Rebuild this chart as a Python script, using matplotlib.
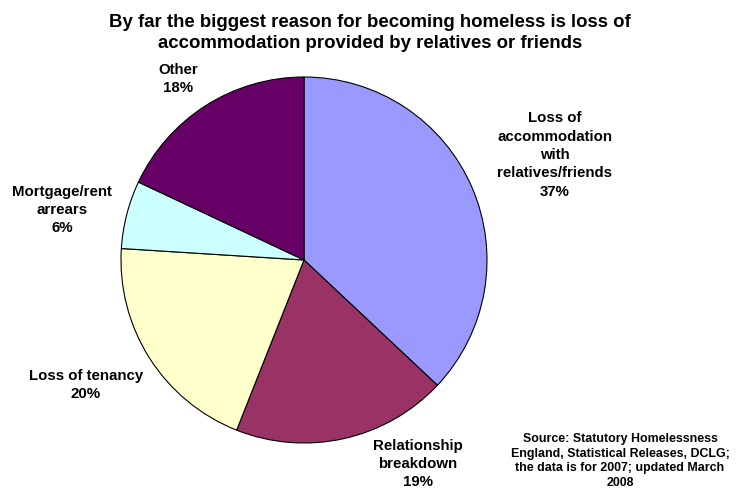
import matplotlib.pyplot as plt

# Reasons for becoming homeless, England 2007
labels = ["Loss of\naccommodation\nwith\nrelatives/friends", "Relationship\nbreakdown",
          "Loss of tenancy", "Mortgage/rent\narrears", "Other"]
shares = [37, 19, 20, 6, 18]
colors = ["#9999FF", "#993366", "#FFFFCC", "#CCFFFF", "#660066"]

# label anchor points (pixel coords, origin bottom-left)
label_pos = [(555, 335), (418, 26), (86, 105), (62, 280), (178, 411)]

plt.rcParams['font.family'] = ['Liberation Sans', 'DejaVu Sans']

fig = plt.figure(figsize=(7.37, 4.90), dpi=100)
ax = fig.add_axes([0, 0, 1, 1])

ax.pie(shares, colors=colors, startangle=90, counterclock=False,
       center=(304, 230), radius=183,
       wedgeprops=dict(edgecolor='black', linewidth=0.8))
ax.set_xlim(0, 737)
ax.set_ylim(0, 490)
ax.set_aspect('equal')
ax.axis('off')

for lab, val, (x, y) in zip(labels, shares, label_pos):
    ax.text(x, y, f"{lab}\n{val}%", ha='center', va='center',
            fontsize=10.8, fontweight='bold', linespacing=1.4)

ax.text(370, 457, "By far the biggest reason for becoming homeless is loss of\n"
        "accommodation provided by relatives or friends",
        ha='center', va='center', fontsize=13.4, fontweight='bold', linespacing=1.35)

ax.text(620, 29, "Source: Statutory Homelessness\nEngland, Statistical Releases, DCLG;\n"
        "the data is for 2007; updated March\n2008",
        ha='center', va='center', fontsize=8.9, fontweight='bold', linespacing=1.3)

fig.savefig("out.png", dpi=100)
